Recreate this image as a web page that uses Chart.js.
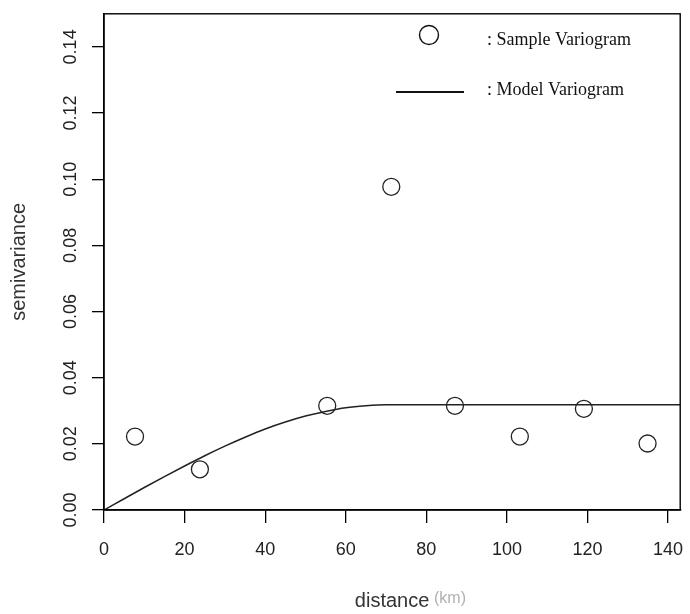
<!DOCTYPE html>
<html>
<head>
<meta charset="utf-8">
<script src="https://cdn.jsdelivr.net/npm/chart.js@4"></script>
<style>
  html, body { margin: 0; padding: 0; background: #fff; }
  #wrap { width: 690px; height: 614px; }
</style>
</head>
<body>
<div id="wrap"><canvas id="variogram"></canvas></div>
<script>
// sample variogram
const sampleDist = [7.7, 23.8, 55.4, 71.3, 87.1, 103.2, 119.1, 134.9];
const sampleGamma = [0.0222, 0.0123, 0.0315, 0.0977, 0.0315, 0.0222, 0.0306, 0.0201];

// fitted model curve, read at a few distances
const modelDist = [0, 5, 10, 15, 20, 25, 30, 35, 40, 45, 50, 55, 60, 65, 70, 143];
const modelGamma = [0, 0.0034, 0.0068, 0.0101, 0.0133, 0.0164, 0.0193, 0.0220, 0.0245,
                    0.0266, 0.0284, 0.0298, 0.0309, 0.0315, 0.0318, 0.0318];

const xTicks = [0, 20, 40, 60, 80, 100, 120, 140];
const yTicks = [0, 0.02, 0.04, 0.06, 0.08, 0.10, 0.12, 0.14];

const sansFont = "'Liberation Sans', Arial, sans-serif";
const serifFont = "'Liberation Serif', 'Times New Roman', serif";

// box around the plot area, R style
const boxPlugin = {
    id: 'box',
    afterDatasetsDraw(chart) {
        const { ctx, chartArea: a } = chart;
        ctx.save();
        ctx.strokeStyle = '#000';
        ctx.lineWidth = 1.4;
        ctx.strokeRect(a.left, a.top, a.right - a.left, a.bottom - a.top);
        ctx.restore();
    }
};

// hand made legend in the top right corner + the grey (km) unit
const notesPlugin = {
    id: 'notes',
    afterDraw(chart) {
        const ctx = chart.ctx;
        ctx.save();
        ctx.strokeStyle = '#111';
        ctx.lineWidth = 1.4;
        ctx.beginPath();
        ctx.arc(429, 35, 9.5, 0, Math.PI * 2);
        ctx.stroke();

        ctx.lineWidth = 1.8;
        ctx.beginPath();
        ctx.moveTo(396, 92);
        ctx.lineTo(464, 92);
        ctx.stroke();

        ctx.fillStyle = '#111';
        ctx.font = '18px ' + serifFont;
        ctx.textAlign = 'left';
        ctx.textBaseline = 'alphabetic';
        ctx.fillText(': Sample Variogram', 487, 45);
        ctx.fillText(': Model Variogram', 487, 95);

        ctx.fillStyle = '#b0b0b0';
        ctx.font = '16px ' + sansFont;
        ctx.fillText('(km)', 434, 603);
        ctx.restore();
    }
};

const ctx = document.getElementById('variogram').getContext('2d');

const chart = new Chart(ctx, {
    type: 'scatter',
    data: {
        datasets: [
            {
                label: 'Sample Variogram',
                data: sampleDist.map((d, i) => ({ x: d, y: sampleGamma[i] })),
                pointStyle: 'circle',
                pointRadius: 8.5,
                pointHoverRadius: 8.5,
                pointBorderWidth: 1.3,
                pointBorderColor: '#222',
                pointBackgroundColor: 'rgba(0,0,0,0)',
                showLine: false,
            },
            {
                label: 'Model Variogram',
                type: 'line',
                data: modelDist.map((d, i) => ({ x: d, y: modelGamma[i] })),
                borderColor: '#222',
                borderWidth: 1.5,
                pointRadius: 0,
                fill: false,
                cubicInterpolationMode: 'monotone',
            }
        ]
    },
    options: {
        responsive: true,
        maintainAspectRatio: false,
        animation: false,
        layout: { padding: { top: 10, right: 9, left: 0, bottom: 0 } },
        plugins: {
            legend: { display: false },
            tooltip: { enabled: false },
        },
        scales: {
            x: {
                type: 'linear',
                min: 0,
                max: 143,
                afterBuildTicks: s => { s.ticks = xTicks.map(v => ({ value: v })); },
                afterFit: s => { s.height = 104; s.paddingLeft = 0; s.paddingRight = 0; },
                border: { display: true, color: '#000', width: 1.4 },
                grid: { drawOnChartArea: false, drawTicks: true, tickLength: 13, color: '#000', lineWidth: 1.3 },
                ticks: {
                    color: '#222',
                    font: { size: 18, family: sansFont },
                    padding: 16,
                    maxRotation: 0,
                    callback: v => String(v),
                },
                title: {
                    display: true,
                    text: 'distance',
                    color: '#333',
                    font: { size: 20, family: sansFont },
                    padding: { top: 0, bottom: 1 },
                },
            },
            y: {
                type: 'linear',
                min: 0,
                max: 0.15,
                afterBuildTicks: s => { s.ticks = yTicks.map(v => ({ value: v })); },
                afterFit: s => { s.width = 104; },
                border: { display: true, color: '#000', width: 1.4 },
                grid: { drawOnChartArea: false, drawTicks: true, tickLength: 12, color: '#000', lineWidth: 1.3 },
                ticks: {
                    color: '#222',
                    font: { size: 18, family: sansFont },
                    padding: 3,
                    minRotation: 90,
                    maxRotation: 90,
                    crossAlign: 'center',
                    callback: v => v.toFixed(2),
                },
                title: {
                    display: true,
                    text: 'semivariance',
                    color: '#333',
                    font: { size: 20, family: sansFont },
                    padding: { top: 7, bottom: 0 },
                },
            },
        },
    },
    plugins: [boxPlugin, notesPlugin],
});
</script>
</body>
</html>
